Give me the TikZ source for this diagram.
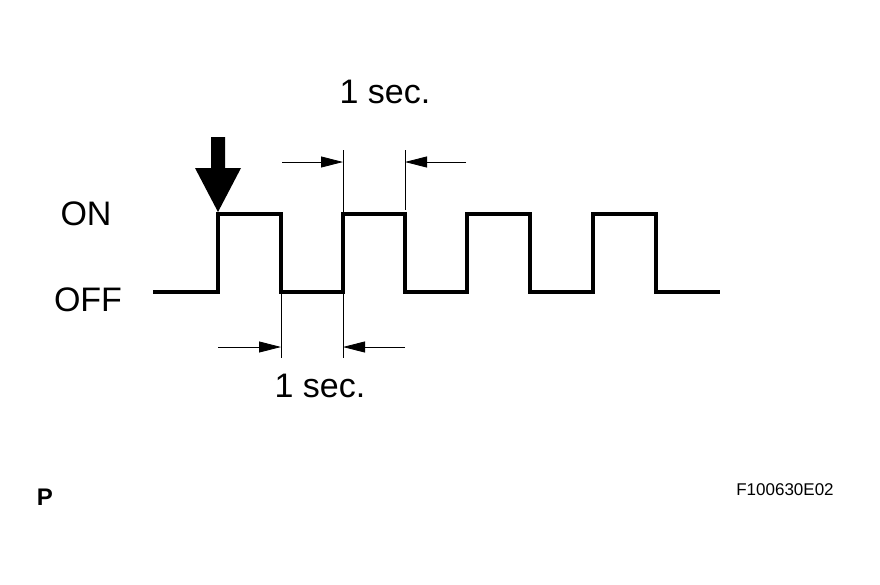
\documentclass[tikz,border=0pt]{standalone}
\usepackage{fontspec}
\setmainfont{Liberation Sans}
\usetikzlibrary{arrows.meta}

\tikzset{
	wave/.style={line width=3.6pt, line join=miter},
	ext/.style={line width=0.8pt},
	dim/.style={line width=0.8pt, -{Triangle[length=22pt,width=11pt]}},
	lbl/.style={font=\fontsize{34}{34}\selectfont, inner sep=0pt},
}

\begin{document}
\begin{tikzpicture}[x=1pt, y=-1pt]
	\useasboundingbox (0,0) rectangle (880,584);

	% waveform
	\draw[wave] (153,292) -- (218,292) -- (218,214) -- (281,214) -- (281,292)
		-- (343,292) -- (343,214) -- (405,214) -- (405,292)
		-- (467,292) -- (467,214) -- (530,214) -- (530,292)
		-- (593,292) -- (593,214) -- (656,214) -- (656,292) -- (720,292);

	% start marker
	\fill (211,137) -- (225,137) -- (225,168) -- (241,168) -- (218,212)
		-- (195,168) -- (211,168) -- cycle;

	% top dimension
	\coordinate (ta) at (343,150);
	\coordinate (tb) at (405,150);
	\draw[ext] (ta) -- (343,214);
	\draw[ext] (tb) -- (405,210);
	\draw[dim] (282,162) -- (343,162);
	\draw[dim] (466,162) -- (405,162);
	\node[lbl] (toplbl) at (385,92) {1 sec.};

	% bottom dimension
	\coordinate (ba) at (281,358);
	\coordinate (bb) at (343,358);
	\draw[ext] (281,292) -- (ba);
	\draw[ext] (343,292) -- (bb);
	\draw[dim] (218,347) -- (281,347);
	\draw[dim] (405,347) -- (343,347);
	\node[lbl] (botlbl) at (320,386) {1 sec.};

	% levels
	\node[lbl] (on) at (86,214) {ON};
	\node[lbl] (off) at (88,300) {OFF};

	\node[inner sep=0pt, font=\bfseries\fontsize{24}{24}\selectfont] (p) at (45,497) {P};
	\node[inner sep=0pt, font=\fontsize{17}{17}\selectfont] (fig) at (785,490) {F100630E02};
\end{tikzpicture}
\end{document}
